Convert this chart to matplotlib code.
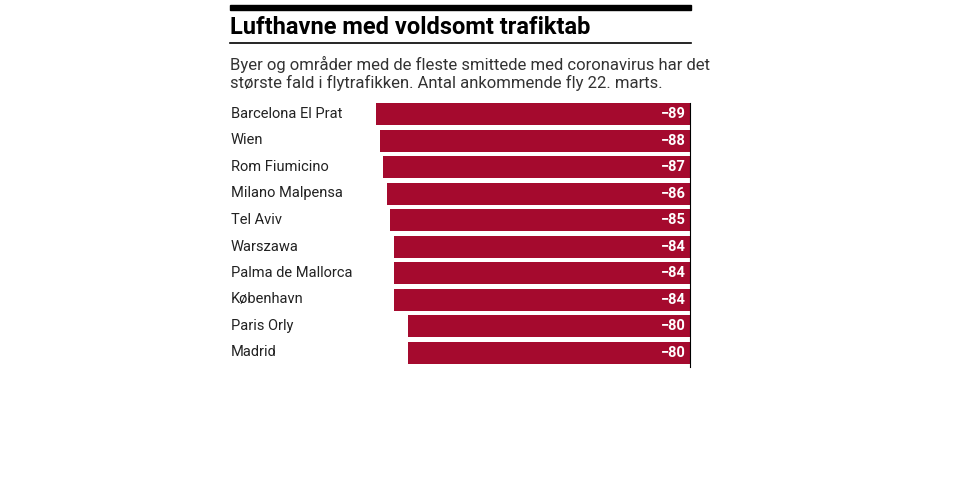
import matplotlib
matplotlib.use("Agg")
import matplotlib.pyplot as plt

airports = ["Barcelona El Prat","Wien","Rom Fiumicino","Milano Malpensa","Tel Aviv",
            "Warszawa","Palma de Mallorca","København","Paris Orly","Madrid"]
values = [-89,-88,-87,-86,-85,-84,-84,-84,-80,-80]

W,H = 960,478
fig = plt.figure(figsize=(W/100,H/100),dpi=100)
plt.rcParams['font.family'] = ['Roboto','DejaVu Sans']
red = "#a50a2e"

# top bar and rule
fig.add_artist(plt.Rectangle((230/W,1-10/H),(691-230)/W,5/H,color="black",transform=fig.transFigure))
fig.add_artist(plt.Line2D([230/W,691/W],[1-43/H,1-43/H],color="black",lw=1.2))
fig.text(230/W,1-27/H,"Lufthavne med voldsomt trafiktab",fontsize=17,fontweight="bold",va="center")
fig.text(230/W,1-64/H,"Byer og områder med de fleste smittede med coronavirus har det",fontsize=12,va="center",color="#333333")
fig.text(230/W,1-83/H,"største fald i flytrafikken. Antal ankommende fly 22. marts.",fontsize=12,va="center",color="#333333")

ax = fig.add_axes([376/W,1-367/H,(690-376)/W,264/H])
pos = list(range(len(values)))
ax.barh(pos,values,height=0.83,color=red)
ax.set_xlim(-89,0)
ax.set_ylim(-0.415+9.96,-0.415)
for s in ["top","bottom","left"]:
    ax.spines[s].set_visible(False)
ax.spines["right"].set_color("black")
ax.set_xticks([]); ax.set_yticks([])
for p,v,name in zip(pos,values,airports):
    ax.text(-1.2,p,f"\u2212{abs(v)}",color="white",fontsize=10.5,fontweight="bold",ha="right",va="center")
    y = 1-(103+11+26.5*p)/H
    fig.text(231/W,y,name,fontsize=10.5,va="center",color="#222222")
fig.savefig("out.png",dpi=100)
